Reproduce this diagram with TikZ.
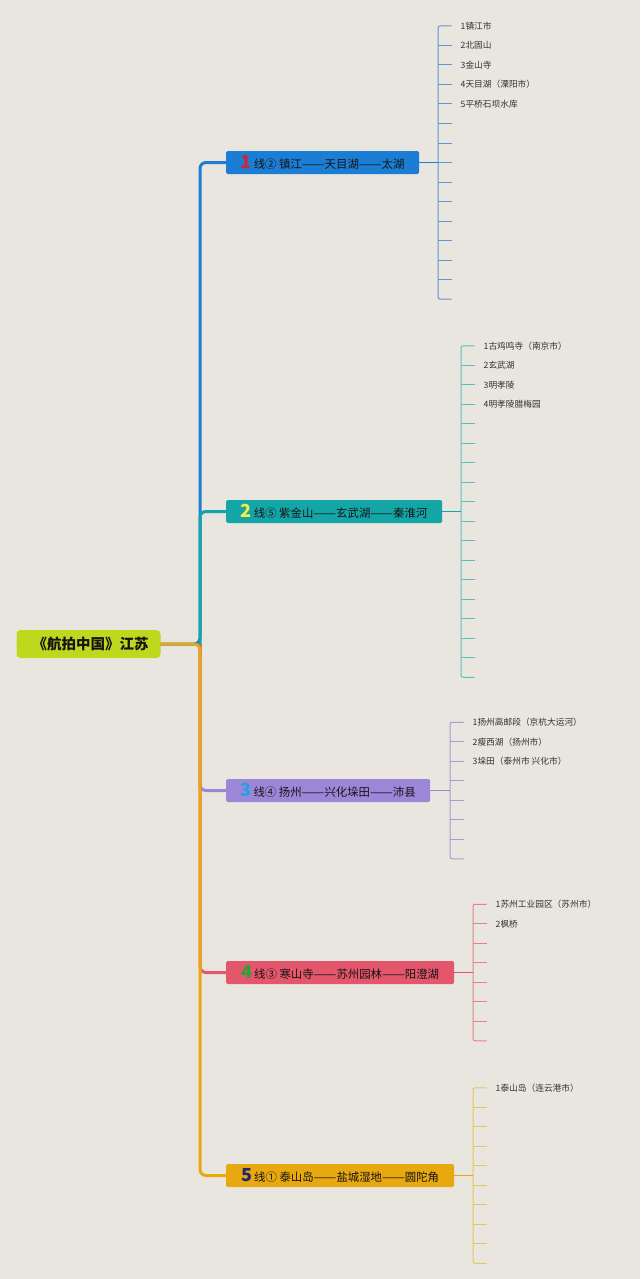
\documentclass[tikz,border=0pt]{standalone}
\usepackage{fontspec}
\usepackage{graphicx}
\newfontfamily\cjk{Noto Sans CJK SC}
\definecolor{bgc}{RGB}{233,230,223}
\definecolor{rootc}{RGB}{190,216,30}
\definecolor{c1}{RGB}{27,125,212}
\definecolor{c2}{RGB}{20,166,166}
\definecolor{c3}{RGB}{155,134,216}
\definecolor{c4}{RGB}{228,86,107}
\definecolor{c5}{RGB}{232,168,15}
\definecolor{l1}{RGB}{95,150,212}
\definecolor{l2}{RGB}{90,192,188}
\definecolor{l3}{RGB}{168,156,214}
\definecolor{l4}{RGB}{228,128,143}
\definecolor{l5}{RGB}{235,195,100}
\definecolor{k1}{RGB}{212,35,55}
\definecolor{k2}{RGB}{246,236,70}
\definecolor{k3}{RGB}{40,160,226}
\definecolor{k4}{RGB}{45,160,60}
\definecolor{k5}{RGB}{30,40,110}
\definecolor{txt}{RGB}{20,20,20}
\definecolor{leaftxt}{RGB}{50,50,50}
\tikzset{
  rootbox/.style={fill=rootc, rounded corners=4pt, minimum width=144pt, minimum height=28pt,
    inner sep=0pt, font=\cjk\bfseries\fontsize{14.5}{16}\selectfont, text=txt},
  topicbox/.style={anchor=west, rounded corners=1.5pt, minimum height=23pt, inner sep=0pt,
    font=\cjk\fontsize{11.4}{13}\selectfont, text=txt},
  leaf/.style={anchor=west, inner sep=0pt, font=\cjk\fontsize{8.7}{10}\selectfont, text=leaftxt},
  trunk/.style={line width=3pt, rounded corners=6pt},
  link/.style={line width=1.5pt},
  leafline/.style={line width=1pt},
}
\newcommand\num[2]{{\color{#1}\bfseries\fontsize{18}{18}\selectfont #2}\,}
\newcommand\dd{\resizebox{2em}{\height}{——}}
\newcommand\leafset[6]{%
  \pgfmathsetmacro\topy{#4-(#5-1)/2*19.5}%
  \foreach \t [count=\i] in {#6} {%
    \pgfmathsetmacro\yy{\topy+(\i-1)*19.5}%
    \coordinate (#1s\i) at (#3,\yy);
    \coordinate (#1e\i) at (#3+13.5,\yy);
    \node[leaf] (#1l\i) at (#3+22.5,\yy) {\t};
  }%
  \coordinate (#1m) at (#3,#4);
  \draw[leafline,#2,rounded corners=2pt] (#1e1) -- (#1s1) -- (#1s#5) -- (#1e#5);
  \pgfmathtruncatemacro\last{#5-1}%
  \foreach \i in {2,...,\last} {\draw[leafline,#2] (#1s\i) -- (#1e\i);}
}
\begin{document}
\begin{tikzpicture}[x=1pt,y=-1pt]
\fill[bgc] (0,0) rectangle (640,1279);
\useasboundingbox (0,0) rectangle (640,1279);

\node[rootbox] (root) at (88.5,644) {\hspace{4pt}《航拍中国》江苏};
\coordinate (tr) at (200,644);

\node[topicbox, fill=c1, minimum width=193pt] (n1) at (226,162.5) {\num{k1}{1}线② 镇江\dd 天目湖\dd 太湖};
\node[topicbox, fill=c2, minimum width=216pt] (n2) at (226,511.5) {\num{k2}{2}线⑤ 紫金山\dd 玄武湖\dd 秦淮河};
\node[topicbox, fill=c3, minimum width=204pt] (n3) at (226,790.5) {\num{k3}{3}线④ 扬州\dd 兴化垛田\dd 沛县};
\node[topicbox, fill=c4, minimum width=228pt] (n4) at (226,972.5) {\num{k4}{4}线③ 寒山寺\dd 苏州园林\dd 阳澄湖};
\node[topicbox, fill=c5, minimum width=228pt] (n5) at (226,1175.5) {\num{k5}{5}线① 泰山岛\dd 盐城湿地\dd 圆陀角};

% trunk connectors
\draw[trunk, c1] (root.east) -- (tr) |- (n1.west);
\draw[trunk, c2] (tr) |- (n2.west);
\draw[trunk, c3] (tr) |- (n3.west);
\draw[trunk, c4] (tr) |- (n4.west);
\draw[trunk, c5] (root.east) -- (tr) |- (n5.west);

% leaves
\leafset{a}{l1}{438}{162.5}{15}{1镇江市,2北固山,3金山寺,4天目湖（溧阳市）,5平桥石坝水库,{},{},{},{},{},{},{},{},{},{}}
\leafset{b}{l2}{461}{511.5}{18}{1古鸡鸣寺（南京市）,2玄武湖,3明孝陵,4明孝陵腊梅园,{},{},{},{},{},{},{},{},{},{},{},{},{},{}}
\leafset{c}{l3}{450}{790.5}{8}{1扬州高邮段（京杭大运河）,2瘦西湖（扬州市）,3垛田（泰州市 兴化市）,{},{},{},{},{}}
\leafset{d}{l4}{473}{972.5}{8}{1苏州工业园区（苏州市）,2枫桥,{},{},{},{},{},{}}
\leafset{e}{l5}{473}{1175.5}{10}{1泰山岛（连云港市）,{},{},{},{},{},{},{},{},{}}

\draw[link, c1] (n1.east) -- (am);
\draw[link, c2] (n2.east) -- (bm);
\draw[link, c3] (n3.east) -- (cm);
\draw[link, c4] (n4.east) -- (dm);
\draw[link, c5] (n5.east) -- (em);
\end{tikzpicture}
\end{document}
